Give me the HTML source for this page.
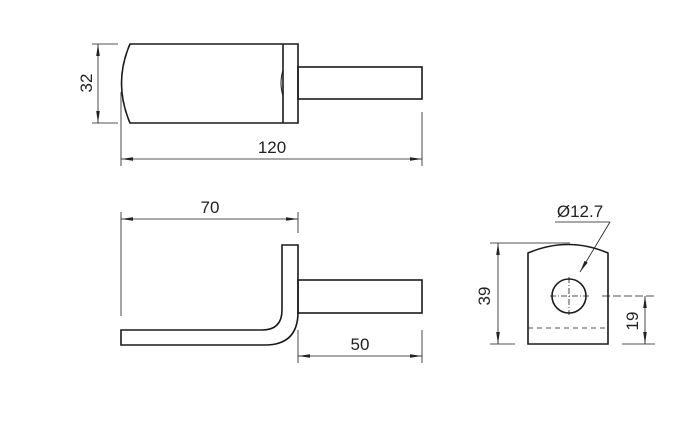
<!DOCTYPE html>
<html><head><style>body{margin:0;background:#fff}svg{display:block}</style></head><body>
<svg width="700" height="426" viewBox="0 0 700 426" xmlns="http://www.w3.org/2000/svg" font-family="Liberation Sans, sans-serif" font-size="17" fill="none" stroke="#1a1a1a">
<defs>
<marker id="a" viewBox="0 0 12 6" refX="12" refY="3" markerWidth="12" markerHeight="6" orient="auto-start-reverse" markerUnits="userSpaceOnUse"><path d="M0,1.2 L12,3 L0,4.8z" fill="#222" stroke="none"/></marker>
</defs>
<!-- top view -->
<g stroke-width="1.6">
<path d="M130,44 L298,44 L298,123 L130,123 Q113,83 130,44z"/>
<line x1="283" y1="44" x2="283" y2="123"/>
<path d="M283,70 Q279,83 283,96" stroke-width="1"/>
<rect x="298" y="67" width="124" height="32"/>
</g>
<g stroke-width="0.8">
<line x1="92" y1="44" x2="118" y2="44"/><line x1="92" y1="123" x2="118" y2="123"/>
<line x1="98" y1="44" x2="98" y2="123" marker-start="url(#a)" marker-end="url(#a)"/>
<line x1="121" y1="92" x2="121" y2="166"/><line x1="422" y1="112" x2="422" y2="166"/>
<line x1="121" y1="159" x2="422" y2="159" marker-start="url(#a)" marker-end="url(#a)"/>
</g>
<g fill="#222" stroke="none">
<text x="0" y="0" text-anchor="middle" transform="translate(92,83) rotate(-90)">32</text>
<text x="272" y="153" text-anchor="middle">120</text>
</g>
<!-- front view -->
<g stroke-width="1.6">
<path d="M121,330 L262,330 Q282,330 282,310 L282,245 L298,245 L298,312 Q298,345 265,345 L121,345z"/>
<rect x="298" y="280" width="124" height="33"/>
</g>
<g stroke-width="0.8">
<line x1="121" y1="212" x2="121" y2="316"/><line x1="298" y1="212" x2="298" y2="233"/>
<line x1="121" y1="219" x2="298" y2="219" marker-start="url(#a)" marker-end="url(#a)"/>
<line x1="298" y1="330" x2="298" y2="363"/><line x1="422" y1="330" x2="422" y2="363"/>
<line x1="298" y1="356" x2="422" y2="356" marker-start="url(#a)" marker-end="url(#a)"/>
</g>
<g fill="#222" stroke="none">
<text x="210" y="213" text-anchor="middle">70</text>
<text x="360" y="350" text-anchor="middle">50</text>
</g>
<!-- side view -->
<g stroke-width="1.6">
<path d="M528,344 L528,253 Q568,236 608,253 L608,344z"/>
<circle cx="569" cy="296" r="17"/>
</g>
<g stroke-width="0.8">
<line x1="528" y1="328" x2="608" y2="328" stroke-dasharray="5,4"/>
<line x1="550" y1="296" x2="590" y2="296" stroke-dasharray="6,2,1,2"/>
<line x1="569" y1="277" x2="569" y2="315" stroke-dasharray="6,2,1,2"/>
<line x1="602" y1="296" x2="655" y2="296" stroke-dasharray="8,3"/>
<line x1="490" y1="243" x2="570" y2="243"/><line x1="490" y1="344" x2="515" y2="344"/>
<line x1="498" y1="243" x2="498" y2="344" marker-start="url(#a)" marker-end="url(#a)"/>
<line x1="622" y1="344" x2="655" y2="344"/>
<line x1="645" y1="296" x2="645" y2="344" marker-start="url(#a)" marker-end="url(#a)"/>
<line x1="610" y1="222" x2="580" y2="272" marker-end="url(#a)"/>
<line x1="555" y1="222" x2="610" y2="222"/>
</g>
<g fill="#222" stroke="none">
<text x="580" y="217" text-anchor="middle">Ø12.7</text>
<text x="0" y="0" text-anchor="middle" transform="translate(490,296) rotate(-90)">39</text>
<text x="0" y="0" text-anchor="middle" transform="translate(638,321) rotate(-90)">19</text>
</g>
</svg>
</body></html>
